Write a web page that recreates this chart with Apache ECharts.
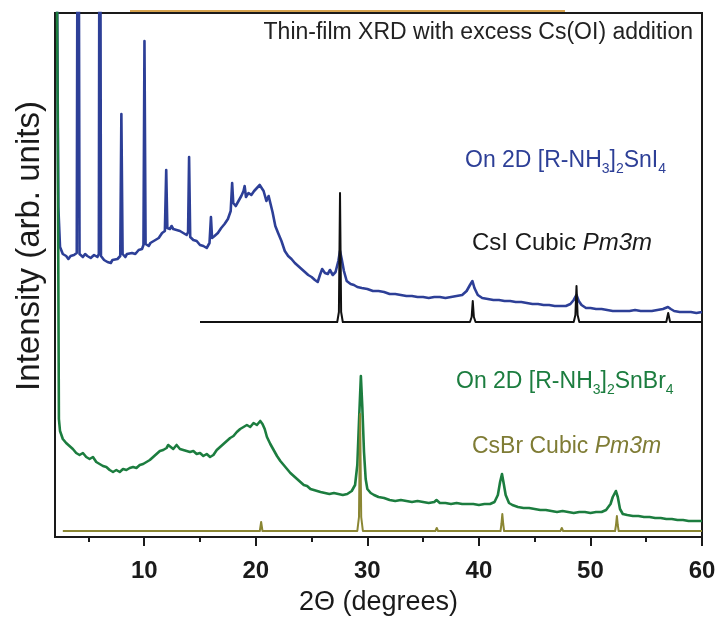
<!DOCTYPE html>
<html>
<head>
<meta charset="utf-8">
<script src="https://cdn.jsdelivr.net/npm/echarts@6/dist/echarts.min.js"></script>
<style>
  html, body { margin: 0; padding: 0; background: #fff; }
  #chart { width: 720px; height: 617px; }
</style>
</head>
<body>
<div id="chart"></div>
<script>
// Thin-film XRD scans, [2θ (deg), intensity (arb.)] pairs, offset vertically

// Film on 2D [R-NH3]2SnI4
const snI4Scan = [
  [2.0, 900], [2.2, 520], [2.3, 330], [2.45, 290], [2.7, 283], [3.0, 281], [3.2, 278], [3.4, 281], [3.7, 282],
  [3.95, 284], [4.07, 900], [4.2, 283], [4.5, 280], [4.7, 283], [4.9, 281], [5.2, 279], [5.5, 282], [5.8, 280],
  [5.93, 283], [6.02, 900], [6.12, 281], [6.4, 277], [6.55, 279], [6.7, 275], [7.0, 274], [7.15, 277], [7.3, 275], [7.6, 278],
  [7.85, 281], [7.95, 423], [8.06, 283], [8.3, 280], [8.45, 283], [8.6, 281], [8.9, 284], [9.2, 283], [9.5, 287],
  [9.8, 288], [9.93, 292], [10.02, 496], [10.12, 293], [10.4, 291], [10.55, 294], [10.7, 292], [11.0, 297], [11.3, 299],
  [11.6, 304], [11.85, 306], [11.97, 367], [12.07, 309], [12.3, 308], [12.45, 311], [12.6, 308], [12.9, 307], [13.2, 306],
  [13.5, 304], [13.8, 302], [13.93, 305], [14.02, 380], [14.12, 300], [14.4, 297], [14.55, 295], [14.7, 296], [15.0, 292],
  [15.3, 291], [15.6, 289], [15.85, 294], [15.98, 320], [16.08, 299], [16.3, 301], [16.6, 304], [16.75, 302], [16.9, 309],
  [17.2, 313], [17.35, 311], [17.5, 318], [17.75, 326], [17.88, 354], [17.98, 334], [18.2, 331], [18.45, 336], [18.7, 341],
  [18.9, 346], [19.0, 351], [19.12, 340], [19.35, 344], [19.6, 342], [19.85, 346], [20.1, 349], [20.35, 352],
  [20.5, 350], [20.7, 346], [20.95, 336], [21.15, 341], [21.3, 339], [21.5, 325], [21.75, 311], [22.0, 304],
  [22.3, 296], [22.6, 286], [22.9, 281], [23.05, 283], [23.2, 278], [23.5, 274], [23.8, 271], [24.1, 268], [24.4, 265],
  [24.7, 262], [25.0, 260], [25.3, 257], [25.55, 255], [25.75, 262], [25.95, 268], [26.2, 264], [26.45, 263],
  [26.65, 267], [26.9, 262], [27.15, 265], [27.4, 276], [27.55, 286], [27.7, 278], [27.9, 266], [28.15, 256],
  [28.5, 253], [28.8, 252], [29.1, 250], [29.5, 249], [30.0, 248], [30.5, 246], [31.0, 246], [31.5, 245],
  [32.0, 243], [32.5, 243], [33.0, 242], [33.5, 241], [34.0, 241], [34.5, 240], [35.0, 240], [35.5, 239],
  [36.0, 240], [36.5, 240], [37.0, 239], [37.5, 240], [38.0, 241], [38.5, 242], [38.9, 246], [39.2, 252],
  [39.42, 256], [39.6, 249], [39.9, 242], [40.3, 239], [40.8, 238], [41.3, 237], [41.8, 237], [42.3, 236],
  [42.8, 236], [43.3, 235], [43.8, 235], [44.3, 234], [44.8, 233], [45.3, 233], [45.8, 232], [46.3, 232],
  [46.8, 231], [47.3, 231], [47.8, 231], [48.2, 233], [48.5, 237], [48.75, 242], [48.95, 236], [49.2, 232],
  [49.6, 229], [50.0, 229], [50.5, 228], [51.0, 228], [51.5, 227], [52.0, 226], [52.5, 226], [53.0, 226],
  [53.5, 226], [54.0, 227], [54.5, 226], [55.0, 226], [55.5, 226], [56.0, 227], [56.5, 228], [56.95, 230],
  [57.2, 228], [57.5, 226], [58.0, 225], [58.5, 225], [59.0, 225], [59.5, 224], [60.0, 225]
];

// Film on 2D [R-NH3]2SnBr4
const snBr4Scan = [
  [2.0, 900], [2.25, 400], [2.35, 118], [2.45, 106], [2.7, 98], [3.0, 94], [3.3, 91], [3.6, 88],
  [3.9, 84], [4.2, 82], [4.5, 84], [4.8, 80], [5.1, 78], [5.4, 80], [5.7, 75], [6.0, 73],
  [6.3, 71], [6.6, 70], [6.9, 67], [7.2, 65], [7.5, 67], [7.8, 65], [8.1, 68], [8.4, 67],
  [8.7, 69], [9.0, 70], [9.3, 69], [9.6, 72], [9.9, 73], [10.2, 75], [10.5, 77], [10.8, 80],
  [11.1, 83], [11.4, 86], [11.55, 84], [11.7, 87], [12.0, 89], [12.15, 92], [12.3, 90], [12.6, 88], [12.9, 92], [13.2, 88],
  [13.5, 87], [13.8, 86], [14.1, 85], [14.4, 86], [14.7, 83], [15.0, 84], [15.3, 81], [15.6, 83],
  [15.9, 80], [16.2, 82], [16.5, 87], [16.8, 90], [17.1, 93], [17.4, 96], [17.7, 99], [18.0, 101],
  [18.3, 105], [18.6, 108], [18.9, 110], [19.2, 112], [19.5, 110], [19.8, 114], [20.1, 112], [20.4, 116],
  [20.6, 113], [20.8, 108], [21.0, 100], [21.3, 93], [21.6, 87], [21.9, 81], [22.2, 76], [22.5, 72],
  [22.8, 68], [23.1, 64], [23.4, 61], [23.7, 58], [24.0, 55], [24.3, 52], [24.6, 51], [24.9, 48],
  [25.2, 47], [25.5, 46], [25.8, 45], [26.2, 44], [26.6, 43], [27.0, 44], [27.4, 43], [27.8, 42],
  [28.2, 43], [28.6, 46], [28.9, 52], [29.1, 72], [29.25, 115], [29.42, 161], [29.55, 130], [29.7, 85],
  [29.85, 58], [30.0, 48], [30.3, 44], [30.6, 42], [31.0, 40], [31.5, 39], [32.0, 37], [32.5, 36],
  [33.0, 37], [33.5, 36], [34.0, 35], [34.5, 36], [35.0, 35], [35.5, 34], [36.0, 35], [36.2, 37],
  [36.5, 34], [37.0, 34], [37.5, 33], [38.0, 34], [38.5, 33], [39.0, 33], [39.5, 33], [40.0, 32],
  [40.5, 33], [41.0, 33], [41.4, 35], [41.7, 42], [41.9, 55], [42.07, 63], [42.2, 55], [42.4, 42],
  [42.7, 34], [43.0, 32], [43.5, 30], [44.0, 29], [44.5, 29], [45.0, 28], [45.5, 27], [46.0, 27],
  [46.5, 26], [47.0, 25], [47.5, 26], [48.0, 25], [48.5, 24], [49.0, 25], [49.5, 25], [50.0, 24],
  [50.5, 25], [51.0, 25], [51.4, 27], [51.8, 33], [52.0, 40], [52.28, 46], [52.45, 40], [52.65, 28],
  [52.9, 23], [53.3, 22], [53.8, 21], [54.3, 21], [54.8, 20], [55.3, 20], [55.8, 19], [56.3, 19],
  [56.8, 18], [57.3, 18], [57.8, 17], [58.3, 17], [58.8, 16], [59.3, 16], [59.8, 16], [60.0, 16]
];

// Simulated reference pattern: CsI, cubic Pm3m
const csiPattern = [
  [15.0, 215], [20.0, 215], [25.0, 215], [27.3, 215], [27.45, 225], [27.55, 344], [27.65, 225], [27.8, 215],
  [33.0, 215], [39.2, 215], [39.35, 220], [39.45, 236], [39.55, 220], [39.7, 215],
  [44.0, 215], [48.5, 215], [48.65, 222], [48.75, 251], [48.85, 222], [49.0, 215],
  [53.0, 215], [56.8, 215], [56.97, 224], [57.14, 215], [60.0, 215]
];

// Simulated reference pattern: CsBr, cubic Pm3m
const csbrPattern = [
  [2.7, 6], [10.0, 6], [20.36, 6], [20.48, 15], [20.6, 6],
  [25.0, 6], [29.1, 6], [29.25, 20], [29.35, 123], [29.45, 20], [29.6, 6],
  [33.0, 6], [36.1, 6], [36.22, 9], [36.34, 6],
  [39.0, 6], [41.94, 6], [42.02, 13], [42.1, 23], [42.18, 13], [42.26, 6],
  [45.0, 6], [47.31, 6], [47.43, 9], [47.55, 6],
  [50.0, 6], [52.21, 6], [52.29, 12], [52.37, 21], [52.45, 12], [52.53, 6], [56.0, 6], [60.0, 6]
];

const majorTicks = [10, 20, 30, 40, 50, 60];
const minorTicks = [5, 15, 25, 35, 45, 55];

const FONT = '"Liberation Sans", Arial, Helvetica, sans-serif';
const BLUE = '#2d3f97';
const GREEN = '#1c7d3f';
const OLIVE = '#8a8633';
const INK = '#1a1a1a';

const chart = echarts.init(document.getElementById('chart'), null, { renderer: 'canvas' });

function lineSeries(data, color, width, z) {
  return {
    type: 'line',
    data: data,
    showSymbol: false,
    symbol: 'none',
    clip: true,
    z: z,
    lineStyle: { color: color, width: width, join: 'round' },
    animation: false
  };
}

function labelText(x, y, color, text, size) {
  return {
    type: 'text',
    x: x,
    y: y,
    style: {
      text: text,
      rich: {
        a: { fontSize: size, fontFamily: FONT, color: color, lineHeight: 30 },
        s: { fontSize: 14, fontFamily: FONT, color: color, lineHeight: 14, verticalAlign: 'bottom' },
        i: { fontSize: size, fontFamily: FONT, fontStyle: 'italic', color: color, lineHeight: 30 }
      },
      fill: color,
      font: size + 'px ' + FONT,
      textVerticalAlign: 'middle'
    },
    z: 10
  };
}

const option = {
  backgroundColor: '#ffffff',
  animation: false,
  grid: {
    left: 55, right: 18, top: 13, bottom: 80,
    outerBoundsMode: 'none',
    containLabel: false,
    show: true, borderColor: INK, borderWidth: 2, backgroundColor: 'transparent'
  },
  xAxis: [
    {
      type: 'value',
      min: 2, max: 60,
      name: '2\u0398 (degrees)',
      nameLocation: 'middle',
      nameGap: 52,
      nameTextStyle: { fontFamily: FONT, fontSize: 27, color: INK },
      axisLine: { show: true, onZero: false, lineStyle: { color: INK, width: 2 } },
      axisTick: { show: true, customValues: majorTicks, length: 9, inside: false, lineStyle: { color: INK, width: 2 } },
      axisLabel: { show: true, customValues: majorTicks, margin: 22, fontFamily: FONT, fontWeight: 'bold', fontSize: 24, color: INK },
      splitLine: { show: false }
    },
    {
      type: 'value',
      min: 2, max: 60,
      position: 'bottom',
      axisLine: { show: false },
      axisTick: { show: true, customValues: minorTicks, length: 5, lineStyle: { color: INK, width: 2 } },
      axisLabel: { show: false },
      splitLine: { show: false }
    }
  ],
  yAxis: {
    type: 'value',
    min: 0, max: 524,
    axisLine: { show: true, lineStyle: { color: INK, width: 2 } },
    axisTick: { show: false },
    axisLabel: { show: false },
    splitLine: { show: false }
  },
  series: [
    lineSeries(snI4Scan, BLUE, 2.6, 2),
    lineSeries(snBr4Scan, GREEN, 2.6, 2),
    lineSeries(csiPattern, '#111111', 2, 3),
    lineSeries(csbrPattern, OLIVE, 2, 3)
  ],
  graphic: [
    {
      type: 'line',
      shape: { x1: 130, y1: 11, x2: 565, y2: 11 },
      style: { stroke: '#d6a24e', lineWidth: 2 },
      z: 10
    },
    {
      type: 'text',
      x: 693, y: 33,
      style: {
        text: 'Thin-film XRD with excess Cs(OI) addition',
        fill: '#222222',
        font: '23px ' + FONT,
        textAlign: 'right',
        textVerticalAlign: 'middle'
      },
      z: 10
    },
    {
      type: 'text',
      x: 30, y: 246,
      rotation: Math.PI / 2,
      style: {
        text: 'Intensity (arb. units)',
        fill: INK,
        font: '33px ' + FONT,
        textAlign: 'center',
        textVerticalAlign: 'middle'
      },
      z: 10
    },
    labelText(465, 161, BLUE, '{a|On 2D [R-NH}{s|3}{a|]}{s|2}{a|SnI}{s|4}', 23),
    labelText(472, 243, INK, '{a|CsI Cubic }{i|Pm3m}', 24),
    labelText(456, 382, GREEN, '{a|On 2D [R-NH}{s|3}{a|]}{s|2}{a|SnBr}{s|4}', 23),
    labelText(472, 447, '#7f7c35', '{a|CsBr Cubic }{i|Pm3m}', 23)
  ]
};

chart.setOption(option);
</script>
</body>
</html>
